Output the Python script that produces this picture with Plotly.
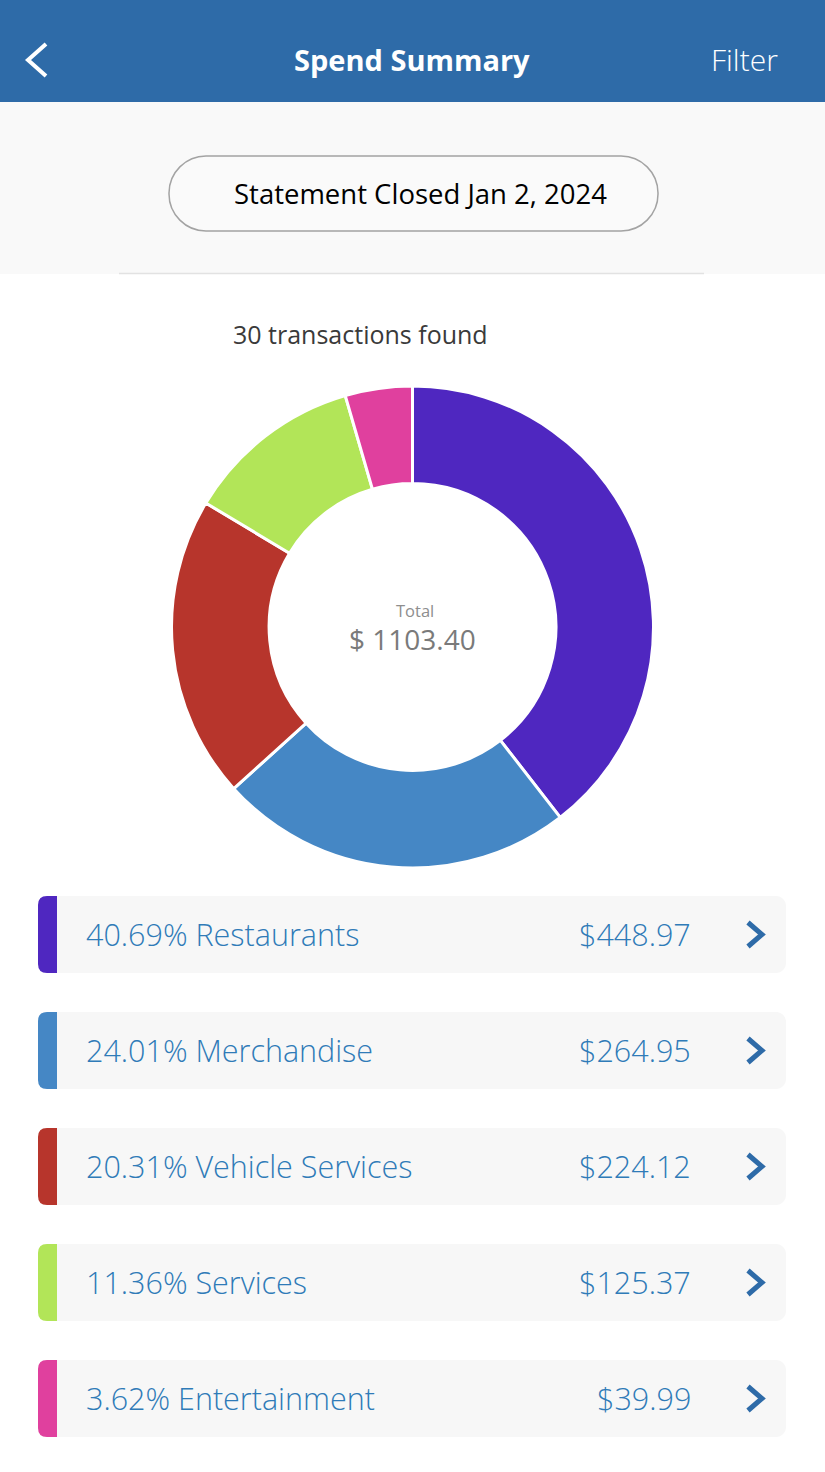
import plotly.graph_objects as go

# screen size of the phone capture
W = 825
H = 1472

categories = ["Restaurants", "Merchandise", "Vehicle Services", "Services", "Entertainment"]
percent_labels = ["40.69%", "24.01%", "20.31%", "11.36%", "3.62%"]
amount_labels = ["$448.97", "$264.95", "$224.12", "$125.37", "$39.99"]
# the ring is not drawn exactly to the printed percentages, these are read off the ring
ring_shares = [39.5, 23.8, 20.3, 11.9, 4.5]
colors = ["#4F27C0", "#4587C5", "#B7352C", "#B2E558", "#E0409E"]

title_text = "Spend Summary"
filter_text = "Filter"
statement_text = "Statement Closed Jan 2, 2024"
found_text = "30 transactions found"
total_label = "Total"
total_value = "$ 1103.40"

FONT = "Open Sans"
BLUE_TEXT = "#2F7BB8"
row_tops = [896, 1012, 1128, 1244, 1360]
ROW_H = 77


def rounded(x0, y0, x1, y1, r):
    # cubic corners, Q corners come out too square on the big pill
    k = r * 0.45
    return (f"M{x0+r},{y0} L{x1-r},{y0} C{x1-k},{y0} {x1},{y0+k} {x1},{y0+r} L{x1},{y1-r} "
            f"C{x1},{y1-k} {x1-k},{y1} {x1-r},{y1} L{x0+r},{y1} C{x0+k},{y1} {x0},{y1-k} {x0},{y1-r} "
            f"L{x0},{y0+r} C{x0},{y0+k} {x0+k},{y0} {x0+r},{y0} Z")


def left_rounded(x0, y0, x1, y1, r):
    return (f"M{x0+r},{y0} L{x1},{y0} L{x1},{y1} L{x0+r},{y1} Q{x0},{y1} {x0},{y1-r} "
            f"L{x0},{y0+r} Q{x0},{y0} {x0+r},{y0} Z")


def label(x, y, text, size, color, anchor="left", weight=400):
    return dict(x=x, y=y, text=text, showarrow=False, xanchor=anchor, yanchor="middle",
                font=dict(family=FONT, size=size, color=color, weight=weight))


shapes = [
    dict(type="rect", x0=0, x1=W, y0=0, y1=102, fillcolor="#2E6BA8", line_width=0, layer="below"),
    dict(type="rect", x0=0, x1=W, y0=102, y1=274, fillcolor="#F9F9F9", line_width=0, layer="below"),
    dict(type="line", x0=119, x1=704, y0=273.5, y1=273.5, line=dict(color="#E2E2E2", width=1.5), layer="below"),
    dict(type="path", path=rounded(169, 156, 658, 231, 37), fillcolor="#FAFAFA",
         line=dict(color="#A3A3A3", width=1.5), layer="below"),
    dict(type="path", path="M46,44 L28,60 L46,76", line=dict(color="white", width=4)),
]
annotations = [
    label(412, 59, title_text, 29, "white", "center", 700),
    label(780, 59, filter_text, 30, "white", "right", 300),
    label(420, 193, statement_text, 27.5, "black", "center", 500),
    label(231, 334, found_text, 25, "#3A3A3A"),
    label(415, 610, total_label, 16.5, "#8E8E8E", "center"),
    label(412, 639, total_value, 28, "#7A7A7A", "center", 500),
]

for i, top in enumerate(row_tops):
    mid = top + ROW_H / 2
    shapes.append(dict(type="path", path=rounded(38, top, 786, top + ROW_H, 10),
                       fillcolor="#F7F7F7", line_width=0, layer="below"))
    shapes.append(dict(type="path", path=left_rounded(38, top, 57, top + ROW_H, 9),
                       fillcolor=colors[i], line_width=0, layer="below"))
    shapes.append(dict(type="path", path=f"M748,{mid-12} L762,{mid} L748,{mid+12}",
                       line=dict(color="#2E6BA8", width=5)))
    annotations.append(label(84, mid - 0.5, f"{percent_labels[i]} {categories[i]}", 30.5, BLUE_TEXT, "left", 300))
    annotations.append(label(693, mid - 0.5, amount_labels[i], 30.5, BLUE_TEXT, "right", 300))

fig = go.Figure(go.Pie(
    labels=categories,
    values=ring_shares,
    hole=0.595,
    sort=False,
    direction="clockwise",
    rotation=0,
    textinfo="none",
    marker=dict(colors=colors, line=dict(color="white", width=3)),
    domain=dict(x=[171 / W, 654 / W], y=[1 - 868 / H, 1 - 386 / H]),
))
fig.update_layout(
    width=W,
    height=H,
    margin=dict(l=0, r=0, t=0, b=0),
    paper_bgcolor="white",
    plot_bgcolor="rgba(0,0,0,0)",
    showlegend=False,
    xaxis=dict(range=[0, W], visible=False, fixedrange=True),
    yaxis=dict(range=[H, 0], visible=False, fixedrange=True),
    shapes=shapes,
    annotations=annotations,
)
# needs a trace on the axes or plotly drops them
fig.add_trace(go.Scatter(x=[], y=[], hoverinfo="skip"))
fig.write_html("out.html", config=dict(displayModeBar=False),
               post_script="document.body.style.margin='0';")
